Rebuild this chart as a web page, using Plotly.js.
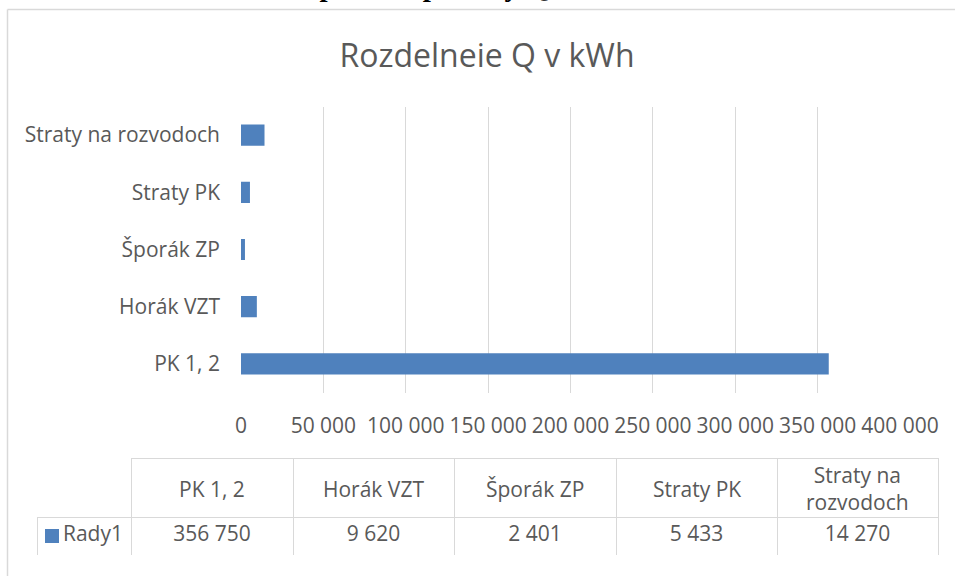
<!DOCTYPE html>
<html>
<head>
<meta charset="utf-8">
<script src="https://cdn.plot.ly/plotly-3.0.1.min.js"></script>
<style>html,body{margin:0;padding:0;background:#fff;}#chart{width:955px;height:576px;}</style>
</head>
<body>
<div id="chart"></div>
<script>
// ---- data ----
var categories = ["PK 1, 2", "Horák VZT", "Šporák ZP", "Straty PK", "Straty na rozvodoch"];
var tableHeaders = ["PK 1, 2", "Horák VZT", "Šporák ZP", "Straty PK", "Straty na<br>rozvodoch"];
var seriesName = "Rady1";
var values = [356750, 9620, 2401, 5433, 14270];
var xTickVals = [0, 50000, 100000, 150000, 200000, 250000, 300000, 350000, 400000];
var chartTitle = "Rozdelneie Q v kWh";
var pageHeading = "Ročná spotreba potreby Q";

// ---- style ----
var W = 955, H = 576;
var barColor = "#4F81BD";
var textColor = "#595959";
var gridColor = "#d9d9d9";
var fontFam = "'Open Sans', 'DejaVu Sans', sans-serif";
var FS = 21;

// table geometry (pixels)
var colEdges = [37, 131, 293, 454, 616, 777, 938];
var tTop = 458, tMid = 517, tBot = 555;

function fmt(v) {
  return String(Math.round(v)).replace(/\B(?=(\d{3})+(?!\d))/g, " ");
}
function px2x(p) { return p / W; }
function px2y(p) { return 1 - p / H; }

var bar = {
  type: "bar",
  orientation: "h",
  x: values,
  y: categories,
  marker: { color: barColor },
  width: 0.37,
  hoverinfo: "none",
  showlegend: false
};

var colWidths = [];
for (var i = 1; i < colEdges.length; i++) colWidths.push(colEdges[i] - colEdges[i - 1]);

var headerVals = [[""]].concat(tableHeaders.map(function () { return [""]; }));
var cellVals = [[seriesName]].concat(values.map(function (v) { return [fmt(v)]; }));

var table = {
  type: "table",
  domain: { x: [px2x(colEdges[0]), px2x(colEdges[colEdges.length - 1])], y: [px2y(tBot), px2y(tTop)] },
  columnwidth: colWidths,
  header: {
    values: headerVals,
    height: tMid - tTop,
    align: "center",
    line: { color: gridColor, width: [0, 1, 1, 1, 1, 1] },
    fill: { color: "white" },
    font: { family: fontFam, size: FS, color: textColor }
  },
  cells: {
    values: cellVals,
    height: tBot - tMid,
    align: ["right", "center", "center", "center", "center", "center"],
    line: { color: gridColor, width: 1 },
    fill: { color: "white" },
    font: { family: fontFam, size: FS, color: textColor }
  }
};

var annotations = [
  { text: "<b>" + pageHeading + "</b>", xref: "paper", yref: "paper", x: px2x(220), xanchor: "left",
    y: 1 - 4 / H, yanchor: "bottom", showarrow: false,
    font: { family: "'Liberation Serif', 'Times New Roman', serif", size: 29, color: "#000" } }
];
tableHeaders.forEach(function (h, k) {
  annotations.push({
    text: h, xref: "paper", yref: "paper",
    x: px2x((colEdges[k + 1] + colEdges[k + 2]) / 2), xanchor: "center",
    y: px2y((tTop + tMid) / 2 + 1), yanchor: "middle",
    showarrow: false, align: "center",
    font: { family: fontFam, size: FS, color: textColor }
  });
});

var layout = {
  width: W, height: H,
  margin: { l: 0, r: 0, t: 0, b: 0 },
  paper_bgcolor: "white",
  plot_bgcolor: "white",
  separators: ", ",
  font: { family: fontFam, size: FS, color: textColor },
  title: {
    text: chartTitle,
    font: { family: fontFam, size: 32, color: textColor },
    x: 487 / W, xanchor: "center",
    y: 1 - 56 / H, yanchor: "middle"
  },
  xaxis: {
    domain: [px2x(241), px2x(900)],
    range: [0, 400000],
    tickvals: xTickVals,
    tickformat: ",d",
    showgrid: true, gridcolor: gridColor, gridwidth: 1,
    zeroline: false, showline: false, ticks: "",
    ticklabelstandoff: 18,
    tickfont: { family: fontFam, size: FS, color: textColor },
    fixedrange: true
  },
  yaxis: {
    domain: [px2y(392.5), px2y(106.5)],
    type: "category",
    showgrid: false, zeroline: false, showline: false, ticks: "",
    ticklabelstandoff: 20,
    tickfont: { family: fontFam, size: FS, color: textColor },
    fixedrange: true
  },
  shapes: [
    { type: "line", xref: "paper", yref: "paper", x0: px2x(7.5), x1: 1.01, y0: px2y(9.5), y1: px2y(9.5), line: { color: gridColor, width: 1.5 } },
    { type: "line", xref: "paper", yref: "paper", x0: px2x(7.5), x1: px2x(7.5), y0: px2y(9.5), y1: -0.01, line: { color: gridColor, width: 1.5 } },
    // legend key square in the data table
    { type: "rect", xref: "paper", yref: "paper", x0: px2x(45), x1: px2x(59), y0: px2y(543), y1: px2y(529),
      fillcolor: barColor, line: { width: 0 }, layer: "above" }
  ],
  annotations: annotations
};

Plotly.newPlot("chart", [bar, table], layout, { displayModeBar: false, staticPlot: true });
</script>
</body>
</html>
